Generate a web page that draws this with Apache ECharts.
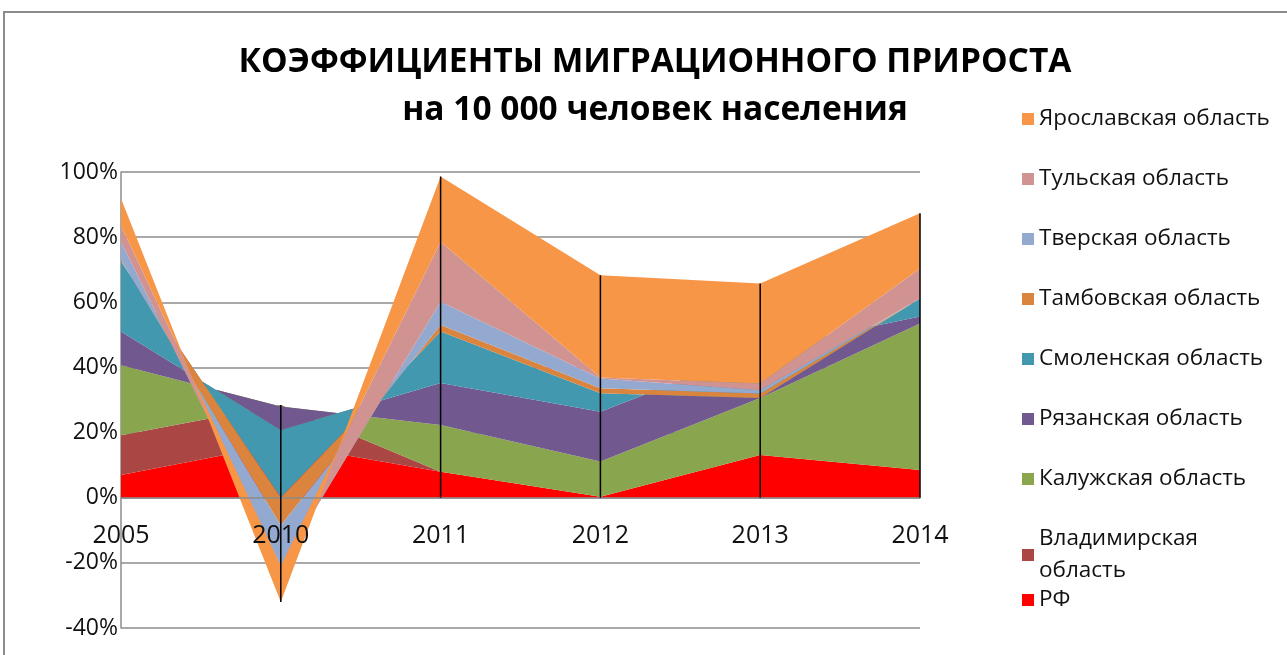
<!DOCTYPE html>
<html>
<head>
<meta charset="utf-8">
<script src="https://cdn.jsdelivr.net/npm/echarts@6/dist/echarts.min.js"></script>
<style>
  html, body { margin: 0; padding: 0; background: #fff; }
  #chart { width: 1287px; height: 655px; }
</style>
</head>
<body>
<div id="chart"></div>
<script>
// годы и значения (в %), читаются с картинки
const years = ['2005', '2010', '2011', '2012', '2013', '2014'];
const rf        = [7,    16.5,  8,    0.3,  13.1,  8.5];
const vladimir  = [12.2, 12,    0,    0,    0,     0];
const kaluga    = [21.5, -0.5,  14.3, 10.8, 17.5,  45];
const ryazan    = [10.3, -7.2,  12.9, 15.3, 14.8,  2.1];
const smolensk  = [21.5, -20.8, 15.8, 5.7,  -14.8, 5.6];
const tambov    = [0.5,  -8.5,  2,    1.5,  1.4,   0];
const tver      = [5.6,  -12.5, 7.2,  3,    1,     0];
const tula      = [5,    0,     18.4, 0.3,  2.1,   9.2];
const yaroslavl = [8.3,  -11,   20,   31.4, 30.7,  16.9];

const yMin = -40, yMax = 100, yStep = 20;

const font = 'Open Sans';

// порядок снизу вверх
const layers = [
  { name: 'РФ', data: rf, color: '#FF0000' },
  { name: 'Владимирская область', data: vladimir, color: '#AA4643' },
  { name: 'Калужская область', data: kaluga, color: '#89A54E' },
  { name: 'Рязанская область', data: ryazan, color: '#71588F' },
  { name: 'Смоленская область', data: smolensk, color: '#4198AF' },
  { name: 'Тамбовская область', data: tambov, color: '#DB843D' },
  { name: 'Тверская область', data: tver, color: '#93A9CF' },
  { name: 'Тульская область', data: tula, color: '#D19392' },
  { name: 'Ярославская область', data: yaroslavl, color: '#F79646' }
];

// вертикальные линии: от верхней до нижней точки стопки
const dropLines = [];
years.forEach((y, i) => {
  let sum = 0, top = 0, bottom = 0;
  layers.forEach(l => {
    sum += l.data[i];
    top = Math.max(top, sum);
    bottom = Math.min(bottom, sum);
  });
  if (i > 0) dropLines.push([i, top, bottom]);
});

const series = layers.map(l => ({
  name: l.name,
  type: 'line',
  stack: 'total',
  stackStrategy: 'all',
  data: l.data,
  symbol: 'none',
  lineStyle: { width: 0, color: l.color },
  itemStyle: { color: l.color },
  areaStyle: { color: l.color, opacity: 1 }
}));

series.push({
  type: 'custom',
  z: 5,
  data: dropLines,
  renderItem: function (params, api) {
    const p1 = api.coord([api.value(0), api.value(1)]);
    const p2 = api.coord([api.value(0), api.value(2)]);
    return {
      type: 'line',
      shape: { x1: p1[0], y1: p1[1], x2: p2[0], y2: p2[1] },
      style: { stroke: '#000', lineWidth: 1.5 }
    };
  }
});

const gridTop = 172, gridBottom = 27;
const plotH = 655 - gridTop - gridBottom;
// подпись годов идёт у нулевой линии, как в Excel
const xOffset = -(0 - yMin) / (yMax - yMin) * plotH;

const legendText = { fontFamily: font, fontSize: 22.5, color: '#111', lineHeight: 32 };

const option = {
  animation: false,
  title: {
    text: 'КОЭФФИЦИЕНТЫ МИГРАЦИОННОГО ПРИРОСТА\nна 10 000 человек населения',
    left: 650,
    textAlign: 'center',
    top: 33,
    textStyle: { fontFamily: font, fontSize: 33.5, fontWeight: 'bold', color: '#000', lineHeight: 48 }
  },
  graphic: [{
    type: 'rect',
    shape: { x: 4, y: 12, width: 1300, height: 660 },
    style: { fill: null, stroke: '#8c8c8c', lineWidth: 2 }
  }],
  legend: [{
    orient: 'vertical',
    left: 1022,
    top: 103,
    padding: 0,
    itemWidth: 12,
    itemHeight: 12,
    itemGap: 28,
    icon: 'rect',
    textStyle: legendText,
    data: ['Ярославская область', 'Тульская область', 'Тверская область', 'Тамбовская область',
      'Смоленская область', 'Рязанская область', 'Калужская область', 'Владимирская область'],
    formatter: function (name) {
      return name === 'Владимирская область' ? 'Владимирская\nобласть' : name;
    }
  }, {
    orient: 'vertical',
    left: 1022,
    top: 584,
    padding: 0,
    itemWidth: 12,
    itemHeight: 12,
    icon: 'rect',
    textStyle: legendText,
    data: ['РФ']
  }],
  grid: { left: 121, right: 367, top: gridTop, bottom: gridBottom, outerBoundsMode: 'none' },
  xAxis: {
    type: 'category',
    boundaryGap: false,
    data: years,
    z: 3,
    offset: xOffset,
    axisLine: { onZero: false, lineStyle: { color: '#8c8c8c', width: 1.5 } },
    axisTick: { show: false },
    axisLabel: { interval: 0, margin: 26, fontFamily: font, fontSize: 25, color: '#111' }
  },
  yAxis: {
    type: 'value',
    min: yMin,
    max: yMax,
    interval: yStep,
    axisLine: { show: true, lineStyle: { color: '#8c8c8c', width: 1.5 } },
    axisTick: { show: false },
    splitLine: { lineStyle: { color: '#8c8c8c', width: 1.5 } },
    axisLabel: { formatter: '{value}%', margin: 3, fontFamily: font, fontSize: 23, color: '#111' }
  },
  series: series
};

const chart = echarts.init(document.getElementById('chart'));
chart.setOption(option);
</script>
</body>
</html>
